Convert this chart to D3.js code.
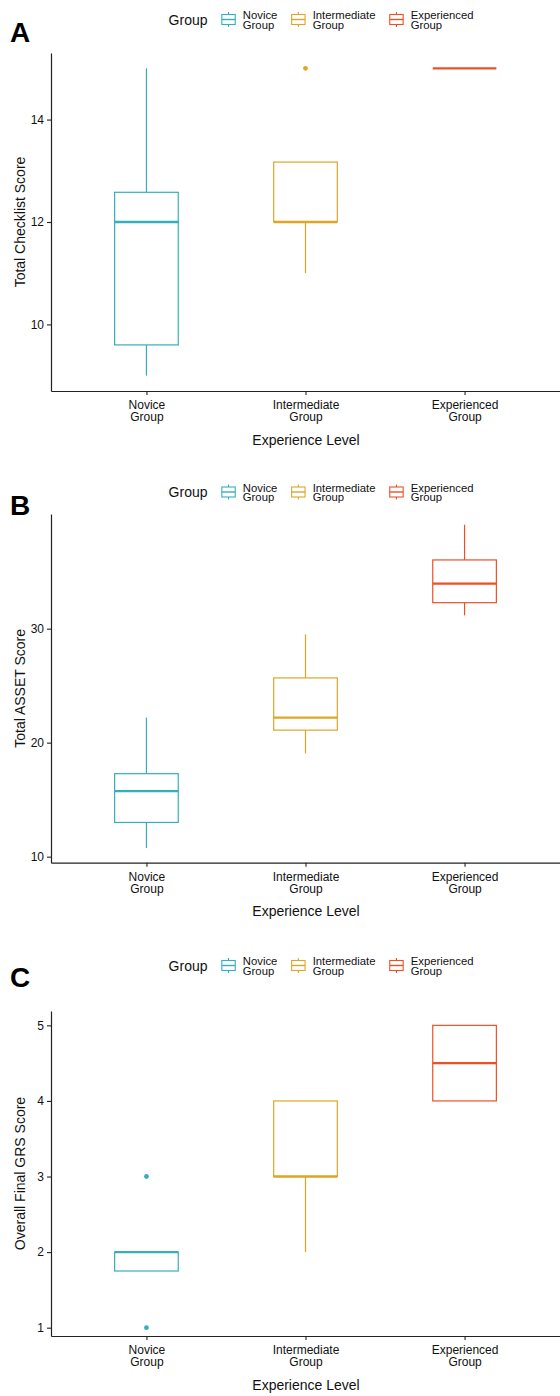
<!DOCTYPE html>
<html>
<head>
<meta charset="utf-8">
<script src="https://cdn.jsdelivr.net/npm/d3@7"></script>
<style>
  body { margin: 0; background: #fff; }
  text { font-family: "Liberation Sans", Arial, Helvetica, sans-serif; }
</style>
</head>
<body>
<script>
// Categories and colours
const groups = ["Novice Group", "Intermediate Group", "Experienced Group"];
const groupColors = ["#35AFBA", "#E0A526", "#EB5127"];

// Box statistics: [lower whisker, Q1, median, Q3, upper whisker]
const checklistStats = [[9, 9.6, 12, 12.58, 15], [11, 12, 12, 13.17, 13.17], [15, 15, 15, 15, 15]];
const checklistOutliers = [[], [15], []];
const checklistTicks = [10, 12, 14];
const checklistDomain = [8.7, 15.3];

const assetStats = [[10.75, 13.0, 15.75, 17.28, 22.2], [19.05, 21.1, 22.2, 25.68, 29.5], [31.17, 32.28, 33.95, 36.03, 39.12]];
const assetOutliers = [[], [], []];
const assetTicks = [10, 20, 30];
const assetDomain = [9.47, 40.06];

const grsStats = [[1.75, 1.75, 2, 2, 2], [2, 3, 3, 4, 4], [4, 4, 4.5, 5, 5]];
const grsOutliers = [[1, 3], [], []];
const grsTicks = [1, 2, 3, 4, 5];
const grsDomain = [0.89, 5.19];

const panels = [
    { tag: "A", yLabel: "Total Checklist Score", stats: checklistStats, outliers: checklistOutliers,
      ticks: checklistTicks, domain: checklistDomain, top: 53, bottom: 391, legendY: 19.5, tagY: 42 },
    { tag: "B", yLabel: "Total ASSET Score", stats: assetStats, outliers: assetOutliers,
      ticks: assetTicks, domain: assetDomain, top: 514, bottom: 862.7, legendY: 492, tagY: 515 },
    { tag: "C", yLabel: "Overall Final GRS Score", stats: grsStats, outliers: grsOutliers,
      ticks: grsTicks, domain: grsDomain, top: 1011, bottom: 1336, legendY: 965.5, tagY: 987 }
];

const W = 560, H = 1396;
const left = 51, right = 560;

const svg = d3.select("body").append("svg")
    .attr("width", W)
    .attr("height", H);

svg.append("rect").attr("width", W).attr("height", H).attr("fill", "#fff");

// shared x scale
const x = d3.scalePoint().domain(groups).range([left, right]).padding(0.6);
const boxW = x.step() * 0.4;

const color = d3.scaleOrdinal().domain(groups).range(groupColors);

panels.forEach(p => {
    const y = d3.scaleLinear().domain(p.domain).range([p.bottom, p.top]);
    const g = svg.append("g");

    // boxes
    groups.forEach((grp, i) => {
        const [lo, q1, med, q3, hi] = p.stats[i];
        const cx = x(grp);
        const c = color(grp);
        const box = g.append("g");

        if (hi > q3) {
            box.append("line").attr("x1", cx).attr("x2", cx).attr("y1", y(q3)).attr("y2", y(hi))
                .attr("stroke", c).attr("stroke-width", 1.2);
        }
        if (lo < q1) {
            box.append("line").attr("x1", cx).attr("x2", cx).attr("y1", y(q1)).attr("y2", y(lo))
                .attr("stroke", c).attr("stroke-width", 1.2);
        }
        box.append("rect")
            .attr("x", cx - boxW / 2)
            .attr("y", y(q3))
            .attr("width", boxW)
            .attr("height", Math.max(0, y(q1) - y(q3)))
            .attr("fill", "#fff")
            .attr("stroke", c)
            .attr("stroke-width", 1.2);
        box.append("line")
            .attr("x1", cx - boxW / 2).attr("x2", cx + boxW / 2)
            .attr("y1", y(med)).attr("y2", y(med))
            .attr("stroke", c).attr("stroke-width", 2.3);

        box.selectAll("circle")
            .data(p.outliers[i])
            .enter().append("circle")
            .attr("cx", cx)
            .attr("cy", d => y(d))
            .attr("r", 2.4)
            .attr("fill", c);
    });

    // axes
    const xAxis = g.append("g")
        .attr("transform", `translate(0,${p.bottom})`)
        .call(d3.axisBottom(x).tickSize(4).tickSizeOuter(0).tickPadding(5.5));
    xAxis.selectAll(".tick text").each(function (d) {
        const t = d3.select(this);
        t.text(null);
        d.split(" ").forEach((w, k) => {
            t.append("tspan").attr("x", 0).attr("dy", k ? "1em" : null).text(w);
        });
    });

    const yAxis = g.append("g")
        .attr("transform", `translate(${left},0)`)
        .call(d3.axisLeft(y).tickValues(p.ticks).tickFormat(d3.format("d"))
            .tickSize(4).tickSizeOuter(0).tickPadding(3));

    [xAxis, yAxis].forEach(ax => {
        ax.select(".domain").attr("stroke", "#222").attr("stroke-width", 1.2);
        ax.selectAll(".tick line").attr("stroke", "#222").attr("stroke-width", 1.1);
        ax.selectAll(".tick text").attr("fill", "#111").style("font-size", "12px")
            .style("font-family", "'Liberation Sans', Arial, sans-serif");
    });

    // axis titles
    g.append("text")
        .attr("x", (left + right) / 2 + 0.5)
        .attr("y", p.bottom + 53.5)
        .attr("text-anchor", "middle")
        .style("font-size", "14px")
        .attr("fill", "#111")
        .text("Experience Level");

    g.append("text")
        .attr("transform", `translate(25,${(p.top + p.bottom) / 2}) rotate(-90)`)
        .attr("text-anchor", "middle")
        .style("font-size", "14px")
        .attr("fill", "#111")
        .text(p.yLabel);

    // panel tag
    g.append("text")
        .attr("x", 10)
        .attr("y", p.tagY)
        .style("font-size", "28px")
        .style("font-weight", "bold")
        .attr("fill", "#000")
        .text(p.tag);

    // legend
    const lg = g.append("g").attr("transform", `translate(0,${p.legendY})`);
    const title = lg.append("text")
        .attr("x", 168.6)
        .attr("y", 5)
        .style("font-size", "14px")
        .attr("fill", "#111")
        .text("Group");
    let kx = 168.6 + title.node().getComputedTextLength() + 13.7;

    groups.forEach(grp => {
        const c = color(grp);
        const key = lg.append("g").attr("transform", `translate(${kx},0)`);
        key.append("line").attr("x1", 7.3).attr("x2", 7.3).attr("y1", -7.5).attr("y2", 7.5)
            .attr("stroke", c).attr("stroke-width", 1.1);
        key.append("rect").attr("x", 0.6).attr("y", -5).attr("width", 13.4).attr("height", 10)
            .attr("fill", "#fff").attr("stroke", c).attr("stroke-width", 1.1);
        key.append("line").attr("x1", 0.6).attr("x2", 14).attr("y1", 0).attr("y2", 0)
            .attr("stroke", c).attr("stroke-width", 1.4);

        const lbl = lg.append("text")
            .attr("x", kx + 21.6)
            .attr("y", -0.5)
            .style("font-size", "11.3px")
            .attr("fill", "#111");
        const words = grp.split(" ");
        words.forEach((w, k) => {
            lbl.append("tspan").attr("x", kx + 21.6).attr("dy", k ? 9.5 : 0).text(w);
        });
        const wmax = d3.max(lbl.selectAll("tspan").nodes(), n => n.getComputedTextLength());
        kx = kx + 21.6 + wmax + 13.7;
    });
});
</script>
</body>
</html>
